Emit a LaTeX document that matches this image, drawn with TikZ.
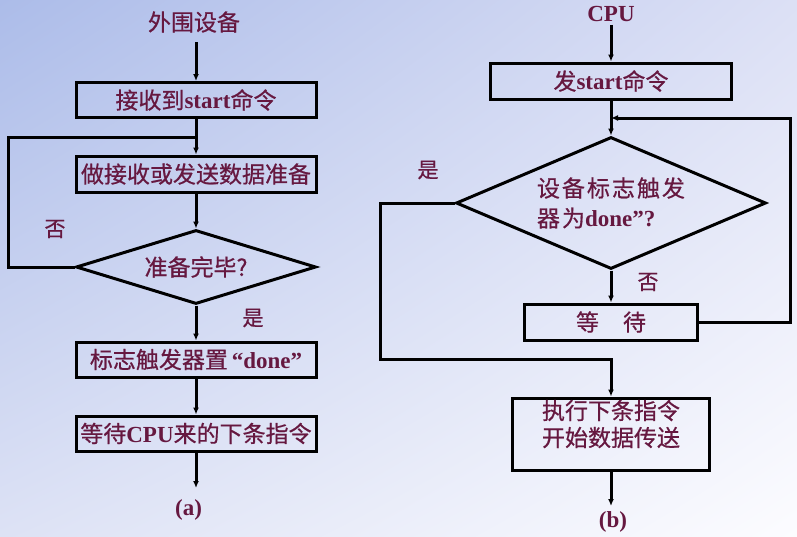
\documentclass[tikz,border=0pt]{standalone}
\usepackage{fontspec}
\setmainfont{Liberation Serif}
\newfontfamily\cjk[FakeBold=0.6]{Noto Sans CJK SC}
\usetikzlibrary{shapes.geometric,arrows.meta,shadings}
\definecolor{txt}{HTML}{661840}
\newcommand\zh[1]{{\cjk #1}}
\newcommand\gp{\kern2pt}
\begin{document}
\begin{tikzpicture}[x=1pt,y=-1pt,
  every node/.style={text=txt,font=\fontsize{23}{30}\selectfont},
  box/.style={draw=black,line width=3pt,inner sep=0pt,rectangle},
  dia/.style={draw=black,line width=3pt,diamond,inner sep=0pt},
  con/.style={draw=black,line width=3pt},
  arr/.style={con,-{Latex[length=7pt,width=6pt]}},
  lbl/.style={font=\fontsize{21}{25}\selectfont}]
\useasboundingbox (0,0) rectangle (797,536);
\shade[upper left={rgb,255:red,172;green,188;blue,233},
       upper right={rgb,255:red,220;green,224;blue,245},
       lower left={rgb,255:red,221;green,226;blue,245},
       lower right={rgb,255:red,252;green,252;blue,255}] (0,0) rectangle (797,536);

% ---------- (a) ----------
\node (t1) at (194,22) {\zh{外围设备}};
\node[box,minimum width=240,minimum height=35] (b1) at (196,100) {\zh{接收到}\textbf{start}\zh{命令}};
\node[box,minimum width=240,minimum height=36] (b2) at (196,174) {\zh{做接收或发送数据准备}};
\node[dia,aspect=3.24,minimum width=240,minimum height=74] (d1) at (196,267) {\zh{准备完毕?}};
\node[box,minimum width=240,minimum height=35] (b3) at (196,359.5) {\zh{标志触发器置}\,\textbf{“done”}};
\node[box,minimum width=240,minimum height=35] (b4) at (196,433.5) {\zh{等待}\textbf{CPU}\zh{来的下条指令}};
\coordinate (j1) at (196,137);
\coordinate (ae) at (196,488);
\node (la) at (188.5,510) {\textbf{(a)}};
\node[lbl] (no1) at (55,229) {\zh{否}};
\node[lbl] (yes1) at (253,318) {\zh{是}};

\draw[arr] ([yshift=-6pt]t1.south -| b1.north) -- (b1.north);
\draw[arr] (b1.south) -- (b2.north);
\draw[arr] (b2.south) -- (d1.north);
\draw[con] (d1.west) -- ++(-66,0) |- (j1);
\draw[arr] (d1.south) -- (b3.north);
\draw[arr] (b3.south) -- (b4.north);
\draw[arr] (b4.south) -- (ae);

% ---------- (b) ----------
\node (t2) at (611,13.5) {\textbf{CPU}};
\node[box,minimum width=241,minimum height=36] (r1) at (611,81) {\zh{发}\textbf{start}\zh{命令}};
\coordinate (j2) at (611,118);
\node[dia,aspect=2.35,minimum width=310,minimum height=132,align=left] (d2) at (611,203)
  {\zh{设\gp 备\gp 标\gp 志\gp 触\gp 发}\\\zh{器\gp 为}\textbf{done”?}};
\node[box,minimum width=173,minimum height=36] (r2) at (611,322) {\zh{等}\hspace{24pt}\zh{待}};
\node[box,minimum width=197,minimum height=72] (r3) at (611,434) {};
\node[align=center,font=\fontsize{23}{27}\selectfont] (r3t) at (611,424) {\zh{执行下条指令}\\\zh{开始数据传送}};
\coordinate (be) at (611,506);
\node (lb) at (613,522) {\textbf{(b)}};
\node[lbl] (yes2) at (428,170) {\zh{是}};
\node[lbl] (no2) at (648,282) {\zh{否}};

\draw[arr] (t2.south) -- (r1.north);
\draw[arr] (r1.south) -- (d2.north);
\draw[arr] (d2.south) -- (r2.north);
\draw[arr] (r2.east) -- ++(91,0) |- (j2);
\draw[arr] (d2.west) -- ++(-74,0) -- ++(0,156) -| (r3.north);
\draw[arr] (r3.south) -- (be);
\end{tikzpicture}
\end{document}
